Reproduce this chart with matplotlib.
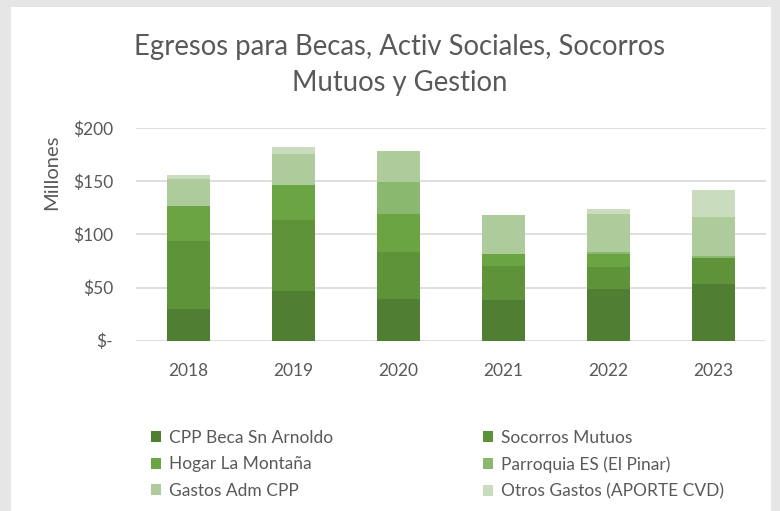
import numpy as np
import matplotlib
matplotlib.use('Agg')
import matplotlib.pyplot as plt
from matplotlib.patches import Rectangle

plt.rcParams['font.family'] = ['Lato', 'DejaVu Sans']

# Datos (millones)
years = ['2018', '2019', '2020', '2021', '2022', '2023']
cpp_beca = [29.8, 46.8, 39.5, 38.6, 48.7, 53.7]
socorros = [64.1, 66.9, 44.0, 32.0, 21.0, 24.2]
hogar = [32.9, 33.3, 36.1, 11.0, 11.9, 0.0]
parroquia = [0.0, 0.0, 29.6, 0.0, 1.6, 1.9]
gastos_adm = [25.5, 29.1, 29.7, 37.0, 36.4, 37.0]
otros = [3.4, 6.3, 0.0, 0.0, 4.4, 25.1]

series = [cpp_beca, socorros, hogar, parroquia, gastos_adm, otros]
labels = ['CPP Beca Sn Arnoldo', 'Socorros Mutuos', 'Hogar La Montaña',
          'Parroquia ES (El Pinar)', 'Gastos Adm CPP', 'Otros Gastos (APORTE CVD)']
colors = ['#507e32', '#5f933a', '#6aa443', '#8ab86e', '#adcb9b', '#c9dcbd']

txt = '#595959'

fig = plt.figure(figsize=(7.8, 5.11), dpi=100)
fig.patch.set_facecolor('#e6e6e6')
# white chart area
fig.patches.append(Rectangle((11/780, 0), 760/780, 504/511, transform=fig.transFigure,
                             facecolor='white', edgecolor='none', zorder=-5))

ax = fig.add_axes([136/780, (511-340.7)/511, 630/780, 212.4/511])
ax.set_facecolor('none')
ax.set_zorder(2)

x = np.arange(len(years))
bottom = np.zeros(len(years))
handles = []
for vals, lab, col in zip(series, labels, colors):
    b = ax.bar(x, vals, 0.41, bottom=bottom, color=col, linewidth=0,
               label=lab, zorder=3)
    handles.append(b)
    bottom += np.array(vals)

ax.set_xlim(-0.5, len(years) - 0.5)
ax.set_ylim(0, 200)
ax.set_yticks([0, 50, 100, 150, 200])
ax.set_yticklabels(['$-', '$50', '$100', '$150', '$200'])
ax.set_xticks(x)
ax.set_xticklabels(years)
ax.tick_params(axis='both', length=0, labelsize=12.5, colors=txt)
ax.tick_params(axis='y', pad=16.5)
ax.tick_params(axis='x', pad=16)
ax.grid(axis='y', color='#d9d9d9', linewidth=1.2, zorder=0)
for s in ax.spines.values():
    s.set_visible(False)

fig.text(52/780, 1 - 172/511, 'Millones', rotation=90, ha='center', va='center',
         fontsize=14.5, color=txt)

fig.text(400/780, 1 - 47/511, 'Egresos para Becas, Activ Sociales, Socorros',
         ha='center', va='center', fontsize=19.8, color=txt)
fig.text(400/780, 1 - 83/511, 'Mutuos y Gestion',
         ha='center', va='center', fontsize=19.8, color=txt)

# legend, row-wise order
order = [0, 2, 4, 1, 3, 5]
leg = fig.legend([handles[i] for i in order], [labels[i] for i in order],
                 ncol=2, loc='upper left', bbox_to_anchor=(151/780, 1 - 430/511),
                 frameon=False, fontsize=12.5, handlelength=0.6, handleheight=0.6,
                 handletextpad=0.45, columnspacing=8.6, labelspacing=0.6,
                 borderaxespad=0, borderpad=0)
for t in leg.get_texts():
    t.set_color(txt)

fig.savefig('out.png', dpi=100, facecolor=fig.get_facecolor())
